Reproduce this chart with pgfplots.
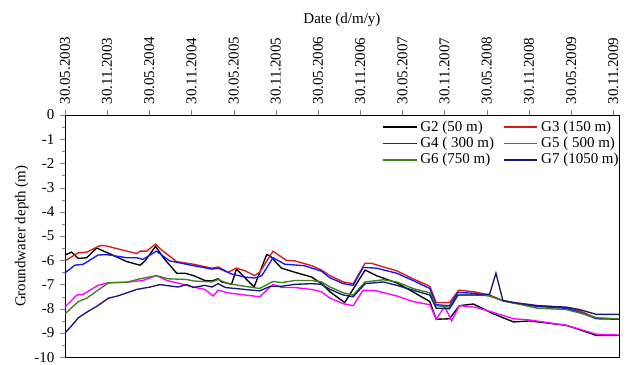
\documentclass[border=0pt]{standalone}
\usepackage{pgfplots}
\pgfplotsset{compat=1.18}
\usepackage{fontspec}
\setmainfont{Liberation Serif}
\definecolor{cG2}{RGB}{0,0,0}
\definecolor{cG3}{RGB}{220,25,25}
\definecolor{cG4}{RGB}{20,20,255}
\definecolor{cG5}{RGB}{255,0,255}
\definecolor{cG6}{RGB}{60,130,30}
\definecolor{cG7}{RGB}{25,25,120}
\begin{document}
\begin{tikzpicture}
\begin{axis}[
  scale only axis,
  width=369.5pt, height=161.6pt,
  xmin=0, xmax=78.8, ymin=-10, ymax=0,
  xtick={0,6,...,78},
  xticklabels={30.05.2003,30.11.2003,30.05.2004,30.11.2004,30.05.2005,30.11.2005,30.05.2006,30.11.2006,30.05.2007,30.11.2007,30.05.2008,30.11.2008,30.05.2009,30.11.2009},
  xticklabel pos=upper,
  xtick pos=upper,
  xticklabel style={rotate=90, anchor=west},
  ytick={-10,-9,...,0},
  minor y tick num=1,
  ytick pos=left,
  tick align=outside,
  major tick length=3.5pt,
  minor tick length=2pt,
  yticklabel style={/pgf/number format/assume math mode=true},
  xlabel={Date (d/m/y)},
  ylabel={Groundwater depth (m)},
  ylabel shift=-3pt,
  legend columns=2,
  legend cell align=left,
  legend style={draw=none, fill=none, inner sep=0pt, at={(rel axis cs:1,0.99)}, xshift=2pt, anchor=north east,
    /tikz/every even column/.append style={column sep=4pt}, row sep=-1.5pt},
  legend image code/.code={\draw[#1, line width=1.2pt] (0cm,0cm) -- (0.78cm,0cm);},
]
\coordinate (bl) at (rel axis cs:0,0);
\coordinate (tr) at (rel axis cs:1,1);
\addplot[cG2, line width=0.9pt] coordinates {(0,-5.78) (0.95,-5.66) (1.9,-5.92) (3.1,-5.89) (4.5,-5.49) (6.4,-5.73) (8.8,-6.05) (10.7,-6.2) (11.4,-6.02) (12.9,-5.42) (14.0,-5.89) (15.9,-6.53) (17.1,-6.53) (18.3,-6.63) (19.9,-6.83) (20.9,-6.85) (21.8,-6.76) (22.3,-6.89) (23.7,-6.98) (24.4,-6.36) (26.9,-7.1) (28.7,-5.76) (29.2,-5.82) (30.8,-6.32) (32.7,-6.49) (35.1,-6.69) (36.5,-6.96) (37.7,-7.3) (39.8,-7.74) (42.7,-6.4) (44.3,-6.63) (47.2,-6.93) (49.5,-7.3) (51.9,-7.7) (52.8,-8.43) (54.7,-8.41) (56.1,-7.87) (58.1,-7.8) (60.9,-8.2) (63.8,-8.54) (66.1,-8.5) (71.3,-8.68) (73.2,-8.86) (75.6,-9.1) (78.8,-9.1)};
\addlegendentry{G2 (50 m)}
\addplot[cG3, line width=0.9pt] coordinates {(0,-6.02) (1.9,-5.69) (3.1,-5.66) (5.0,-5.39) (5.7,-5.39) (10.2,-5.72) (10.7,-5.62) (11.6,-5.62) (12.9,-5.33) (13.7,-5.56) (15.9,-6.05) (18.3,-6.16) (20.9,-6.32) (21.8,-6.27) (23.2,-6.49) (24.4,-6.32) (25.6,-6.43) (27.0,-6.63) (27.7,-6.49) (29.6,-5.62) (31.5,-6.0) (32.7,-6.02) (35.1,-6.22) (36.5,-6.4) (37.7,-6.63) (39.6,-6.89) (41.0,-6.96) (42.7,-6.12) (43.6,-6.12) (45.3,-6.27) (47.2,-6.43) (49.5,-6.76) (51.9,-7.07) (52.8,-7.74) (54.7,-7.74) (56.0,-7.23) (58.3,-7.3) (60.4,-7.43) (62.3,-7.66) (63.8,-7.74) (67.1,-7.86) (71.3,-7.95) (73.2,-8.08) (75.6,-8.38) (78.8,-8.43)};
\addlegendentry{G3 (150 m)}
\addplot[cG4, line width=0.9pt] coordinates {(0,-6.52) (1.4,-6.2) (2.6,-6.16) (4.7,-5.78) (5.9,-5.76) (8.8,-5.89) (10.2,-5.89) (11.1,-5.96) (13.0,-5.62) (14.9,-6.02) (18.3,-6.22) (20.9,-6.36) (21.8,-6.32) (23.7,-6.56) (25.6,-6.69) (27.0,-6.73) (28.0,-6.63) (29.6,-5.89) (31.3,-6.16) (34.1,-6.22) (36.5,-6.45) (37.7,-6.72) (39.6,-6.96) (41.0,-7.03) (42.4,-6.29) (44.3,-6.32) (47.2,-6.53) (49.5,-6.83) (51.9,-7.16) (52.8,-7.83) (54.7,-7.87) (55.9,-7.32) (58.3,-7.36) (60.4,-7.47) (62.3,-7.67) (63.8,-7.76) (67.1,-7.9) (71.3,-7.98) (73.2,-8.14) (75.6,-8.41) (78.8,-8.43)};
\addlegendentry{G4 ( 300 m)}
\addplot[cG5, line width=0.9pt] coordinates {(0,-7.93) (1.7,-7.43) (2.6,-7.4) (4.7,-7.03) (6.2,-6.92) (8.8,-6.9) (11.1,-6.83) (13.0,-6.63) (14.5,-6.83) (16.4,-6.96) (18.3,-7.1) (19.9,-7.2) (21.1,-7.47) (21.8,-7.23) (23.2,-7.34) (25.6,-7.43) (27.7,-7.5) (29.6,-6.99) (30.8,-7.12) (32.7,-7.12) (35.1,-7.2) (36.5,-7.3) (37.7,-7.56) (39.6,-7.79) (41.0,-7.87) (42.4,-7.23) (44.3,-7.26) (47.2,-7.47) (49.5,-7.7) (51.9,-7.83) (52.8,-8.43) (54.0,-7.9) (55.0,-8.5) (56.1,-7.87) (58.3,-7.93) (60.4,-8.1) (63.8,-8.41) (66.1,-8.46) (71.3,-8.68) (73.2,-8.84) (75.6,-9.05) (78.8,-9.08)};
\addlegendentry{G5 ( 500 m)}
\addplot[cG6, line width=0.9pt] coordinates {(0,-8.21) (1.9,-7.7) (3.1,-7.56) (4.5,-7.27) (6.2,-6.93) (8.8,-6.9) (10.7,-6.76) (13.0,-6.63) (14.7,-6.76) (17.3,-6.79) (18.3,-6.85) (20.9,-6.89) (21.8,-6.79) (23.2,-6.96) (25.6,-7.07) (27.7,-7.16) (29.6,-6.87) (30.8,-6.92) (32.7,-6.83) (35.1,-6.83) (36.5,-6.89) (37.7,-7.1) (39.6,-7.34) (41.0,-7.43) (42.7,-6.89) (45.3,-6.8) (47.2,-6.89) (49.5,-7.16) (51.9,-7.34) (52.8,-7.87) (54.7,-7.93) (55.9,-7.43) (58.3,-7.43) (60.4,-7.46) (62.3,-7.66) (67.1,-7.97) (71.3,-8.03) (73.2,-8.17) (75.6,-8.37) (78.8,-8.41)};
\addlegendentry{G6 (750 m)}
\addplot[cG7, line width=0.9pt] coordinates {(0,-9.0) (0.95,-8.7) (1.9,-8.37) (3.1,-8.14) (4.5,-7.9) (6.2,-7.56) (7.6,-7.46) (10.2,-7.2) (12.1,-7.1) (13.5,-7.0) (16.1,-7.1) (17.3,-7.0) (18.3,-7.12) (19.9,-7.03) (20.9,-7.1) (21.8,-6.96) (22.8,-7.12) (25.6,-7.2) (27.7,-7.26) (29.2,-7.07) (30.8,-7.07) (32.7,-6.99) (35.1,-6.96) (36.5,-6.99) (37.7,-7.2) (39.6,-7.43) (41.0,-7.5) (42.7,-6.96) (45.3,-6.89) (47.2,-7.03) (49.5,-7.23) (51.9,-7.43) (52.8,-7.97) (54.7,-8.0) (55.9,-7.43) (58.3,-7.43) (60.4,-7.4) (61.3,-6.53) (62.3,-7.66) (63.8,-7.74) (67.1,-7.87) (71.3,-7.93) (73.2,-8.03) (75.6,-8.23) (78.8,-8.23)};
\addlegendentry{G7 (1050 m)}
\end{axis}
\pgfresetboundingbox
\useasboundingbox ([xshift=-43.3pt,yshift=-4.5pt]bl) rectangle ([xshift=6.7pt,yshift=76.7pt]tr);
\end{tikzpicture}
\end{document}
